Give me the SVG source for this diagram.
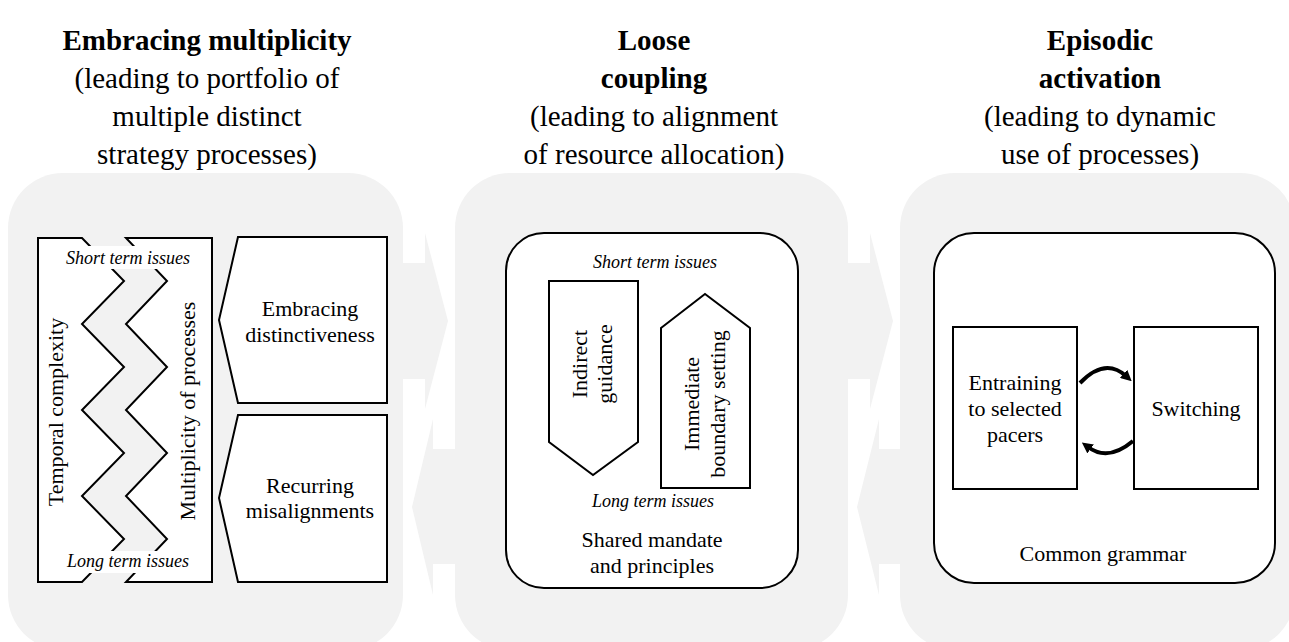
<svg xmlns="http://www.w3.org/2000/svg" width="1289" height="642" viewBox="0 0 1289 642">
<style>
.t{font-family:"Liberation Serif","Times New Roman",serif;font-size:29px;fill:#000;text-anchor:middle}
.tb{font-family:"Liberation Serif","Times New Roman",serif;font-size:29px;font-weight:bold;fill:#000;text-anchor:middle}
.l{font-family:"Liberation Serif","Times New Roman",serif;font-size:22px;fill:#000;text-anchor:middle}
.i{font-family:"Liberation Serif","Times New Roman",serif;font-size:18px;font-style:italic;fill:#000;text-anchor:middle}
.panel{fill:#f2f2f2}
.box{fill:#fff;stroke:#000;stroke-width:2;stroke-linejoin:miter}
.band{fill:#fff}
.arc{fill:none;stroke:#000;stroke-width:4}
</style>
<defs>
<marker id="ah" viewBox="0 0 10 10" refX="3" refY="5" markerWidth="11" markerHeight="11" markerUnits="userSpaceOnUse" orient="auto">
<path d="M0,0 L10,5 L0,10 z" fill="#000"/>
</marker>
</defs>
<rect width="1289" height="642" fill="#fff"/>

<g id="titles">
<text class="tb" x="207" y="50">Embracing multiplicity</text>
<text class="t" x="207" y="88">(leading to portfolio of</text>
<text class="t" x="207" y="126">multiple distinct</text>
<text class="t" x="207" y="164">strategy processes)</text>
<text class="tb" x="654" y="50">Loose</text>
<text class="tb" x="654" y="88">coupling</text>
<text class="t" x="654" y="126">(leading to alignment</text>
<text class="t" x="654" y="164">of resource allocation)</text>
<text class="tb" x="1100" y="50">Episodic</text>
<text class="tb" x="1100" y="88">activation</text>
<text class="t" x="1100" y="126">(leading to dynamic</text>
<text class="t" x="1100" y="164">use of processes)</text>
</g>

<g id="panels">
<rect class="panel" x="8" y="173" width="395" height="477" rx="55"/>
<rect class="panel" x="455" y="173" width="393" height="477" rx="55"/>
<rect class="panel" x="900" y="173" width="395" height="477" rx="55"/>
</g>

<g id="panel-arrows">
<polygon class="panel" points="398,263 425,263 425,233 448,321 425,409 425,379 398,379"/>
<polygon class="panel" points="460,449 433,449 433,419 412,507 433,595 433,564 460,564"/>
<polygon class="panel" points="843,263 870,263 870,233 893,321 870,409 870,379 843,379"/>
<polygon class="panel" points="905,449 879,449 879,419 857,507 879,595 879,564 905,564"/>
</g>

<g id="temporal-complexity">
<polygon class="box" points="38,238 82,238 124,281 82,324 124,367 82,410 124,453 82,496 124,539 82,582 38,582"/>
<text class="l" transform="translate(63,412) rotate(-90)">Temporal complexity</text>
</g>
<g id="multiplicity-of-processes">
<polygon class="box" points="126,238 212,238 212,582 126,582 167,539 126,496 167,453 126,410 167,367 126,324 167,281"/>
<text class="l" transform="translate(195,411) rotate(-90)">Multiplicity of processes</text>
</g>
<g id="left-labels">
<rect class="band" x="63" y="246" width="130" height="23"/>
<text class="i" x="128" y="264">Short term issues</text>
<rect class="band" x="63" y="551" width="130" height="22"/>
<text class="i" x="128" y="567">Long term issues</text>
</g>
<g id="embracing-distinctiveness">
<polygon class="box" points="238,237 387,237 387,403 238,403 219,320"/>
<text class="l" x="310" y="316">Embracing</text>
<text class="l" x="310" y="342">distinctiveness</text>
</g>
<g id="recurring-misalignments">
<polygon class="box" points="238,415 387,415 387,582 238,582 219,498"/>
<text class="l" x="310" y="493">Recurring</text>
<text class="l" x="310" y="518">misalignments</text>
</g>

<g id="shared-mandate">
<rect class="box" x="506" y="233" width="292" height="355" rx="38"/>
<text class="i" x="655" y="268">Short term issues</text>
<text class="i" x="653" y="507">Long term issues</text>
<text class="l" x="652" y="547">Shared mandate</text>
<text class="l" x="652" y="573">and principles</text>
</g>
<g id="indirect-guidance">
<polygon class="box" points="549,281 638,281 638,442 593,475 549,442"/>
<text class="l" transform="translate(587,364) rotate(-90)">Indirect</text>
<text class="l" transform="translate(612,364) rotate(-90)">guidance</text>
</g>
<g id="immediate-boundary-setting">
<polygon class="box" points="661,328 705,294 750,328 750,488 661,488"/>
<text class="l" transform="translate(699,404) rotate(-90)">Immediate</text>
<text class="l" transform="translate(725,404) rotate(-90)">boundary setting</text>
</g>

<g id="common-grammar">
<rect class="box" x="934" y="233" width="341" height="350" rx="40"/>
<text class="l" x="1103" y="561">Common grammar</text>
</g>
<g id="entraining">
<rect class="box" x="953" y="327" width="124" height="162"/>
<text class="l" x="1015" y="390">Entraining</text>
<text class="l" x="1015" y="416">to selected</text>
<text class="l" x="1015" y="442">pacers</text>
</g>
<g id="switching">
<rect class="box" x="1134" y="327" width="124" height="162"/>
<text class="l" x="1196" y="416">Switching</text>
</g>

<g id="connectors">
<path class="arc" d="M1080,383 Q1105,357 1126,376" marker-end="url(#ah)"/>
<path class="arc" d="M1133,441 Q1108,462 1088,447" marker-end="url(#ah)"/>
</g>
</svg>
